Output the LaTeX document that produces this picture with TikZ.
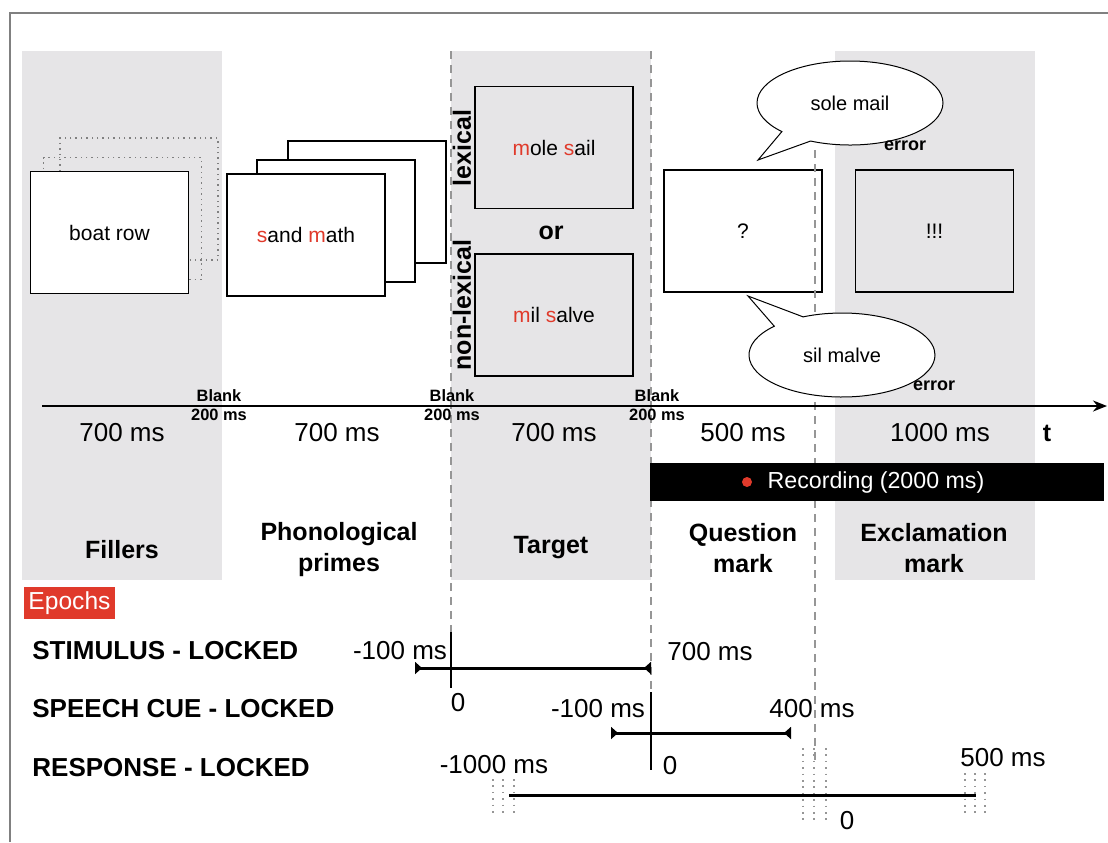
\documentclass[tikz,border=0pt]{standalone}
\usepackage{fontspec}
\setmainfont{Liberation Sans}
\usetikzlibrary{arrows.meta,shapes.callouts,positioning}
\definecolor{fond}{RGB}{230,229,231}
\definecolor{rouge}{RGB}{224,58,43}
\definecolor{tiret}{RGB}{150,150,150}
\newcommand{\rg}[1]{\textcolor{rouge}{#1}}

\begin{document}
\begin{tikzpicture}[x=0.5pt,y=-0.5pt,
    ecran/.style={draw,line width=0.7pt,minimum width=79pt,minimum height=61pt,
      inner sep=0pt,font=\fontsize{10.5}{12}\selectfont},
    bulle/.style={ellipse callout,draw,fill=white,line width=0.5pt,minimum width=93pt,
      minimum height=42pt,callout pointer arc=22,font=\fontsize{10}{12}\selectfont},
    guide/.style={tiret,line width=0.6pt,dash pattern=on 4pt off 3pt},
    points/.style={tiret,line width=0.7pt,dash pattern=on 0.8pt off 2.4pt},
    epoque/.style={line width=1.5pt},
    lbl/.style={font=\fontsize{13}{15}\selectfont},
    titre/.style={font=\fontsize{12.5}{15.5}\selectfont\bfseries,align=center},
    ligne/.style={font=\fontsize{13}{15}\selectfont\bfseries,anchor=west,inner sep=0pt},
    petit/.style={font=\fontsize{8.2}{9}\selectfont\bfseries,inner sep=0pt}]
  \useasboundingbox (0,0) rectangle (1108,842);

  % Panneaux gris
  \fill[fond] (22,51) rectangle (222,580);
  \fill[fond] (451,51) rectangle (651,580);
  \fill[fond] (835,51) rectangle (1035,580);

  % Cadre
  \draw[gray,line width=0.8pt] (10,842) -- (10,13) -- (1108,13);

  % Fillers
  \node[ecran,draw=gray,dotted] (f3) at (139,199) {};
  \node[ecran,draw=gray,dotted] (f2) at (122.5,218.5) {};
  \node[ecran,fill=white] (f1) at (109.5,232.5) {boat row};

  % Amorces
  \node[ecran,fill=white] (p3) at (367,202) {};
  \node[ecran,fill=white] (p2) at (336,221) {};
  \node[ecran,fill=white] (p1) at (306,235) {\rg{s}and \rg{m}ath};

  % Cible
  \node[ecran,fill=fond] (lex) at (554,147.5) {\rg{m}ole \rg{s}ail};
  \node[titre] (ou) at (551,233) {or};
  \node[ecran,fill=fond] (nonlex) at (554,315) {\rg{m}il \rg{s}alve};

  % Question / exclamation
  \node[ecran,fill=white] (quest) at (743,231) {?};
  \node[ecran,fill=fond] (excl) at (934.5,231) {!!!};

  % Lignes pointillees
  \draw[guide] (451,51) -- (451,632);
  \draw[guide] (651,51) -- (651,692);
  \draw[guide] (815,150) -- (815,760);

  \node[titre,rotate=90,inner sep=0pt] (lexlbl) at (462,148) {lexical};
  \node[titre,rotate=90,inner sep=0pt] (nonlexlbl) at (462,305) {non-lexical};

  % Bulles
  \node[bulle,callout absolute pointer={(758,160)}] (b1) at (850,103) {sole mail};
  \node[bulle,callout absolute pointer={(748,296)}] (b2) at (842,355) {sil malve};
  \node[petit,font=\fontsize{9}{10}\selectfont\bfseries] (err1) at (905,146) {error};
  \node[petit,font=\fontsize{9}{10}\selectfont\bfseries] (err2) at (934,386) {error};

  % Axe du temps
  \coordinate (t0) at (42,406);
  \coordinate (t1) at (1107,406);
  \draw[line width=1pt,-{Stealth[length=7pt,width=5.5pt]}] (t0) -- (t1);
  \foreach \x/\n in {219/a,452/b,657/c} {
    \node[petit] (blank\n) at (\x,396) {Blank};
    \node[petit] (bms\n) at (\x,415) {200 ms};
  }
  \foreach \x/\d/\n in {122/700/a,337/700/b,554/700/c,743/500/d,940/1000/e}
    \node[lbl] (dur\n) at (\x,433) {\d\ ms};
  \node[titre] (t) at (1047,433) {t};

  % Enregistrement
  \node[fill=black,minimum width=227pt,minimum height=19pt,inner sep=0pt] (rec) at (877,482) {};
  \node[lbl,text=white,font=\fontsize{11.6}{13}\selectfont] (rectxt) at (876,482) {Recording (2000 ms)};
  \node[circle,fill=rouge,minimum size=5pt,inner sep=0pt] (point) at (747,482) {};

  % Phases
  \node[titre] (fill) at (122,550) {Fillers};
  \node[titre] (prim) at (339,550) {Phonological\\primes};
  \node[titre] (targ) at (551,548) {Target};
  \node[titre] (qm) at (743,548) {Question\\mark};
  \node[titre] (em) at (934,548) {Exclamation\\mark};

  % Epoques
  \node[fill=rouge,text=white,minimum width=45.5pt,minimum height=16pt,inner sep=0pt,
    font=\fontsize{12.3}{14}\selectfont] (epochs) at (69.5,603) {Epochs};
  \node[ligne] (stim) at (32,651) {STIMULUS - LOCKED};
  \node[ligne] (cue) at (32,709) {SPEECH CUE - LOCKED};
  \node[ligne] (resp) at (32,768) {RESPONSE - LOCKED};

  % Stimulus
  \coordinate (s0) at (415,668);
  \coordinate (s1) at (651,668);
  \draw[epoque,{Triangle[reversed,length=3.5pt,width=6pt]}-{Triangle[reversed,length=3.5pt,width=6pt]}] (s0) -- (s1);
  \draw[line width=0.8pt] (451,632) -- (451,688);
  \node[lbl] (sa) at (400,651) {-100 ms};
  \node[lbl] (sb) at (458,703) {0};
  \node[lbl] (sc) at (710,652) {700 ms};

  % Signal de parole
  \coordinate (c0) at (611,733);
  \coordinate (c1) at (791,733);
  \draw[epoque,{Triangle[reversed,length=3.5pt,width=6pt]}-{Triangle[reversed,length=3.5pt,width=6pt]}] (c0) -- (c1);
  \draw[line width=0.8pt] (651,692) -- (651,770);
  \node[lbl] (ca) at (598,709) {-100 ms};
  \node[lbl] (cb) at (670,766) {0};
  \node[lbl] (cc) at (812,709) {400 ms};

  % Reponse
  \coordinate (r0) at (509,795);
  \coordinate (r1) at (976,795);
  \draw[epoque] (r0) -- (r1);
  \foreach \x in {493,503,514} \draw[points] (\x,779) -- (\x,815);
  \foreach \x in {803,814,826} \draw[points] (\x,748) -- (\x,822);
  \foreach \x in {965,975,985} \draw[points] (\x,773) -- (\x,815);
  \node[lbl] (ra) at (494,765) {-1000 ms};
  \node[lbl] (rb) at (847,821) {0};
  \node[lbl] (rc) at (1003,758) {500 ms};

\end{tikzpicture}
\end{document}
